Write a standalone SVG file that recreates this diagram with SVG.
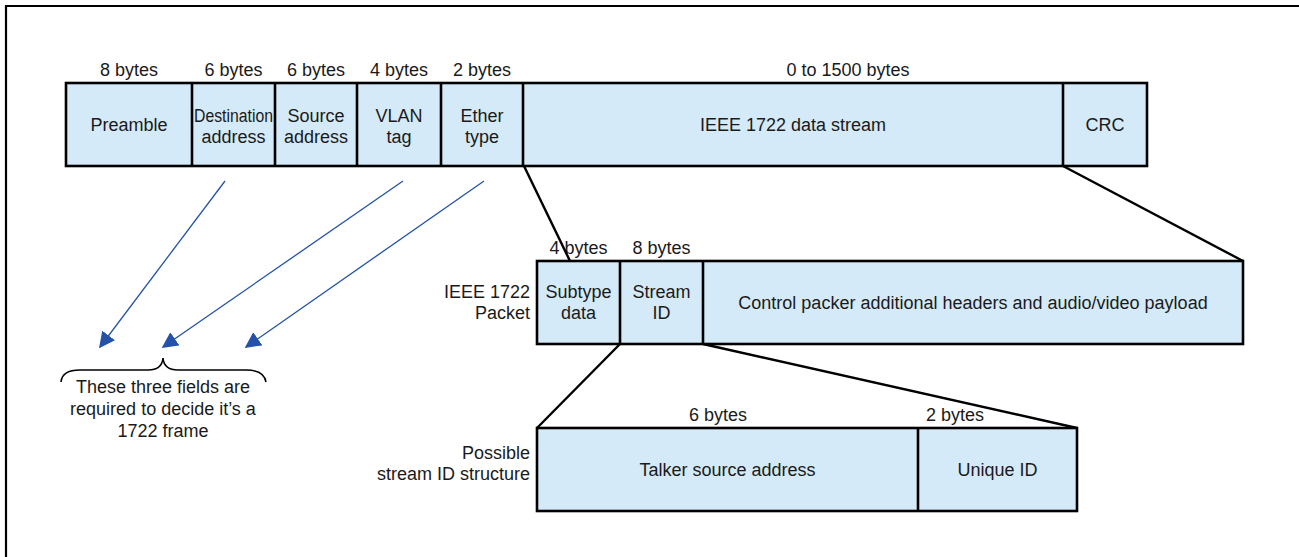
<svg xmlns="http://www.w3.org/2000/svg" width="1299" height="557" viewBox="0 0 1299 557">
<defs>
<style>
.box{fill:#d5eaf8;stroke:#000;stroke-width:2.6}
.div{stroke:#000;stroke-width:2.6;fill:none}
.t{font-family:"Liberation Sans",Arial,sans-serif;font-size:18px;fill:#1a1a1a;text-anchor:middle}
.r{text-anchor:end}
.con{stroke:#000;stroke-width:2.4;fill:none}
.arr{stroke:#2452a8;stroke-width:1.3;fill:none}
</style>
<marker id="ah" viewBox="0 0 10 10" refX="9" refY="5" markerWidth="16" markerHeight="16" markerUnits="userSpaceOnUse" orient="auto">
<path d="M0,0 L10,5 L0,10 z" fill="#2452a8"/>
</marker>
</defs>
<rect width="1299" height="557" fill="#fff"/>
<path d="M6,557 V6 H1299" fill="none" stroke="#000" stroke-width="2.2"/>

<g id="ethernet-frame">
<rect class="box" x="66" y="83" width="1081" height="83"/>
<path class="div" d="M192,83V166M275,83V166M357,83V166M441,83V166M523,83V166M1063,83V166"/>
<text class="t" x="129" y="76">8 bytes</text>
<text class="t" x="233.5" y="76">6 bytes</text>
<text class="t" x="316" y="76">6 bytes</text>
<text class="t" x="399" y="76">4 bytes</text>
<text class="t" x="482" y="76">2 bytes</text>
<text class="t" x="848" y="76">0 to 1500 bytes</text>
<text class="t" x="129" y="131">Preamble</text>
<text class="t" x="233.5" y="122" textLength="79" lengthAdjust="spacingAndGlyphs">Destination</text>
<text class="t" x="233.5" y="143">address</text>
<text class="t" x="316" y="122">Source</text>
<text class="t" x="316" y="143">address</text>
<text class="t" x="399" y="122">VLAN</text>
<text class="t" x="399" y="143">tag</text>
<text class="t" x="482" y="122">Ether</text>
<text class="t" x="482" y="143">type</text>
<text class="t" x="793" y="131">IEEE 1722 data stream</text>
<text class="t" x="1105" y="131">CRC</text>
</g>

<g id="ieee1722-packet">
<rect class="box" x="537" y="261" width="706" height="83"/>
<path class="div" d="M620,261V344M703,261V344"/>
<text class="t" x="578.5" y="254">4 bytes</text>
<text class="t" x="661.5" y="254">8 bytes</text>
<text class="t r" x="530" y="298">IEEE 1722</text>
<text class="t r" x="530" y="319">Packet</text>
<text class="t" x="578.5" y="298">Subtype</text>
<text class="t" x="578.5" y="319">data</text>
<text class="t" x="661.5" y="298">Stream</text>
<text class="t" x="661.5" y="319">ID</text>
<text class="t" x="973" y="309">Control packer additional headers and audio/video payload</text>
</g>

<g id="stream-id">
<rect class="box" x="537" y="428" width="540" height="83"/>
<path class="div" d="M918,428V511"/>
<text class="t" x="718" y="421">6 bytes</text>
<text class="t" x="955" y="421">2 bytes</text>
<text class="t r" x="530" y="459">Possible</text>
<text class="t r" x="530" y="480">stream ID structure</text>
<text class="t" x="727.5" y="476">Talker source address</text>
<text class="t" x="997.5" y="476">Unique ID</text>
</g>

<g id="note">
<path d="M61,382 Q62,370 80,370 H148 Q162,370 163,358 Q164,370 178,370 H246 Q264,370 266,382" fill="none" stroke="#000" stroke-width="1.6"/>
<text class="t" x="163" y="393">These three fields are</text>
<text class="t" x="163" y="415">required to decide it’s a</text>
<text class="t" x="163" y="437">1722 frame</text>
</g>

<g id="connectors">
<line class="con" x1="524" y1="166" x2="570" y2="261"/>
<line class="con" x1="1063" y1="166" x2="1243" y2="261"/>
<line class="con" x1="620" y1="344" x2="537" y2="428"/>
<line class="con" x1="703" y1="344" x2="1077" y2="428"/>
<line class="arr" x1="225" y1="181" x2="100" y2="347" marker-end="url(#ah)"/>
<line class="arr" x1="403" y1="181" x2="163" y2="347" marker-end="url(#ah)"/>
<line class="arr" x1="484" y1="181" x2="246" y2="347" marker-end="url(#ah)"/>
</g>
</svg>
